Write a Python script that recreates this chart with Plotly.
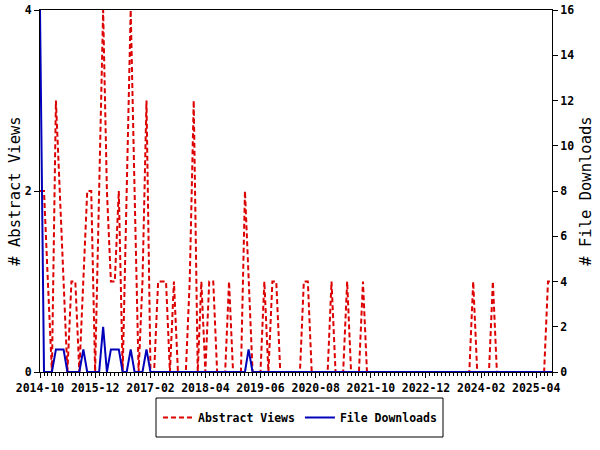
import plotly.graph_objects as go
import pandas as pd

# Monthly series, 2014-10 .. 2025-08
start_month = "2014-10-01"
end_month = "2025-08-01"
months = pd.date_range(start_month, end_month, freq="MS")

abstract_views = [
    2, 2, 1, 0, 3, 2, 1, 0, 1, 1,
    0, 1, 2, 2, 0, 2, 4, 2, 1, 1,
    2, 0, 2, 4, 2, 0, 1, 3, 0, 0,
    1, 1, 1, 0, 1, 0, 0, 0, 1, 3,
    0, 1, 0, 1, 1, 0, 0, 0, 1, 0,
    0, 0, 2, 1, 0, 0, 0, 1, 0, 1,
    1, 0, 0, 0, 0, 0, 0, 1, 1, 0,
    0, 0, 0, 0, 1, 0, 0, 0, 1, 0,
    0, 0, 1, 0, 0, 0, 0, 0, 0, 0,
    0, 0, 0, 0, 0, 0, 0, 0, 0, 0,
    0, 0, 0, 0, 0, 0, 0, 0, 0, 0,
    1, 0, 0, 0, 0, 1, 0, 0, 0, 0,
    0, 0, 0, 0, 0, 0, 0, 0, 0, 1,
    1,
]

file_downloads = [
    16, 0, 0, 0, 1, 1, 1, 0, 0, 0,
    0, 1, 0, 0, 0, 0, 2, 0, 1, 1,
    1, 0, 0, 1, 0, 0, 0, 1, 0, 0,
    0, 0, 0, 0, 0, 0, 0, 0, 0, 0,
    0, 0, 0, 0, 0, 0, 0, 0, 0, 0,
    0, 0, 0, 1, 0, 0, 0, 0, 0, 0,
    0, 0, 0, 0, 0, 0, 0, 0, 0, 0,
    0, 0, 0, 0, 0, 0, 0, 0, 0, 0,
    0, 0, 0, 0, 0, 0, 0, 0, 0, 0,
    0, 0, 0, 0, 0, 0, 0, 0, 0, 0,
    0, 0, 0, 0, 0, 0, 0, 0, 0, 0,
    0, 0, 0, 0, 0, 0, 0, 0, 0, 0,
    0, 0, 0, 0, 0, 0, 0, 0, 0, 0,
    0,
]

left_ticks = [0, 2, 4]
right_ticks = [0, 2, 4, 6, 8, 10, 12, 14, 16]

FONT = "DejaVu Sans Mono"

fig = go.Figure()
fig.add_trace(go.Scatter(
    x=months, y=abstract_views, name="Abstract Views", mode="lines",
    line=dict(color="#dd0000", width=2, dash="5px,3px"), yaxis="y",
))
fig.add_trace(go.Scatter(
    x=months, y=file_downloads, name="File Downloads", mode="lines",
    line=dict(color="#0000bb", width=2), yaxis="y2",
))

# plot area: screen x 40..552, y 10..372 (page body margin removed)
W, H = 600, 450
L, R, T, B = 40, 48, 10, 78
pw, ph = W - L - R, H - T - B

def px_x(p):
    return (p - L) / pw

def px_y(p):
    return (H - B - p) / ph

fig.update_layout(
    width=W, height=H,
    margin=dict(l=L, r=R, t=T, b=B, autoexpand=False),
    paper_bgcolor="white", plot_bgcolor="white",
    font=dict(family=FONT, color="black", size=12),
    showlegend=True,
    legend=dict(
        orientation="h", x=px_x(300), xanchor="center",
        y=px_y(417.5), yanchor="middle",
        font=dict(family=FONT, size=11.5, color="black", weight="bold"),
        bgcolor="rgba(0,0,0,0)", itemwidth=30,
    ),
    xaxis=dict(
        type="date", range=[start_month, end_month], automargin=False,
        tick0=start_month, dtick="M14", tickformat="%Y-%m",
        ticks="outside", ticklen=5, tickcolor="black", tickwidth=1,
        tickfont=dict(family=FONT, size=11.5, color="black", weight="bold"),
        showline=True, linecolor="black", linewidth=1, mirror=True,
        showgrid=False, zeroline=False,
        minor=dict(dtick="M1", tick0=start_month, ticks="outside", ticklen=3,
                   tickcolor="black", tickwidth=1, showgrid=False),
    ),
    yaxis=dict(
        range=[0, 4], tickvals=left_ticks, ticks="outside", ticklen=5,
        tickcolor="black", automargin=False, ticklabeloverflow="allow",
        tickfont=dict(family=FONT, size=11.5, color="black", weight="bold"),
        showline=True, linecolor="black", linewidth=1,
        showgrid=False, zeroline=False,
        title=dict(text="# Abstract Views", font=dict(family=FONT, size=15.5),
                   standoff=0),
    ),
    yaxis2=dict(
        range=[0, 16], tickvals=right_ticks, overlaying="y", side="right",
        ticks="outside", ticklen=5, tickcolor="black", automargin=False,
        ticklabeloverflow="allow",
        tickfont=dict(family=FONT, size=11.5, color="black", weight="bold"),
        showline=True, linecolor="black", linewidth=1,
        showgrid=False, zeroline=False,
        title=dict(text="# File Downloads", font=dict(family=FONT, size=15.5),
                   standoff=6),
    ),
    shapes=[dict(
        type="rect", xref="paper", yref="paper",
        x0=px_x(156), x1=px_x(443), y0=px_y(437), y1=px_y(398),
        line=dict(color="black", width=1), fillcolor="rgba(0,0,0,0)",
    )],
)

fig.write_html("out.html", config={"displayModeBar": False},
               post_script="document.body.style.margin='0px';")
